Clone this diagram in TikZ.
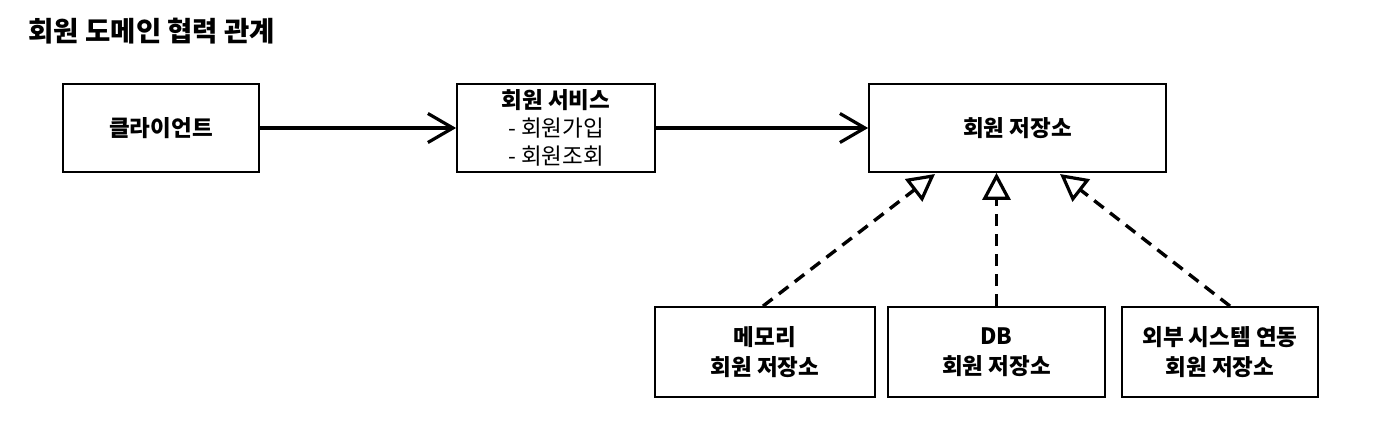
\documentclass[tikz,border=0pt]{standalone}
\usepackage{fontspec}
\setmainfont{Noto Sans CJK KR}
\usetikzlibrary{arrows.meta}
\begin{document}
\begin{tikzpicture}[x=1pt,y=-1pt,
  box/.style={draw,line width=1.8pt,minimum height=88pt,align=center,inner sep=0pt,font=\fontsize{22.5}{28}\selectfont\bfseries},
  flow/.style={line width=3.2pt,-{Straight Barb[length=25pt,width=29pt,line width=3.2pt]}},
  real/.style={line width=3.4pt,dash pattern=on 12pt off 8pt,-{Triangle[open,length=27pt,width=28pt,line width=3.2pt,fill=white]}}]
\useasboundingbox (0,0) rectangle (1375,433);
\node[anchor=west,font=\fontsize{27.5}{30}\selectfont\bfseries] (title) at (25,31) {회원 도메인 협력 관계};
\node[box,minimum width=196pt] (client) at (161,128) {클라이언트};
\node[box,minimum width=198pt] (svc) at (556,128) {회원 서비스\\\mdseries - 회원가입\\\mdseries - 회원조회};
\node[box,minimum width=297pt] (repo) at (1017.5,128) {회원 저장소};
\node[box,minimum width=220pt,minimum height=90pt,font=\fontsize{22.5}{30}\selectfont\bfseries] (mem) at (765,352) {메모리\\회원 저장소};
\node[box,minimum width=217pt,minimum height=90pt,font=\fontsize{22.5}{30}\selectfont\bfseries] (db) at (996.5,352) {DB\\회원 저장소};
\node[box,minimum width=196pt,minimum height=90pt,font=\fontsize{22.5}{30}\selectfont\bfseries] (ext) at (1220,352) {외부 시스템 연동\\회원 저장소};
\draw[flow] (client) -- (svc);
\draw[flow] (svc) -- (repo);
\coordinate (t1) at (935,174);
\coordinate (t3) at (1060,174);
\draw[real] (mem.north -| 763,0) -- (t1);
\draw[real] (db.north) -- (db.north |- repo.south);
\draw[real] (ext.north -| 1230,0) -- (t3);
\end{tikzpicture}
\end{document}
